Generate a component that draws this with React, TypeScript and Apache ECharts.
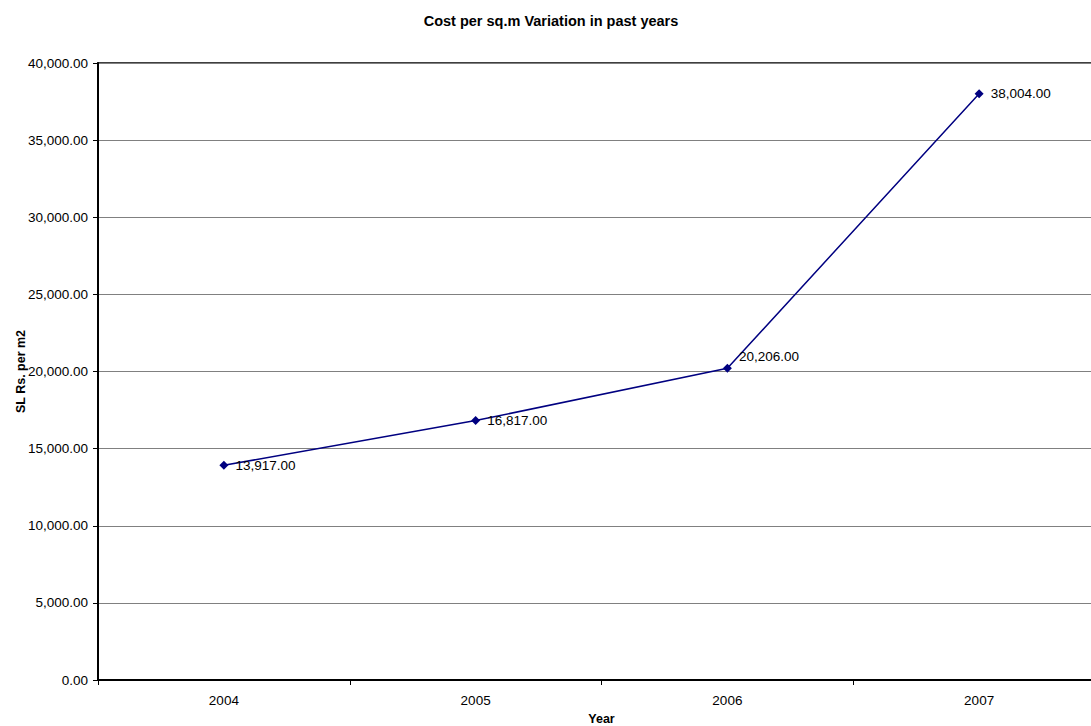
import React, { useEffect, useRef } from "react";
import * as echarts from "echarts";

const years = ["2004", "2005", "2006", "2007"];
const costs = [13917, 16817, 20206, 38004];
const chartTitle = "Cost per sq.m Variation in past years";
const yName = "SL Rs. per m2";
const xName = "Year";

const fmt = (v: number) =>
  v.toLocaleString("en-US", { minimumFractionDigits: 2, maximumFractionDigits: 2 });

export default function App() {
  const ref = useRef<HTMLDivElement>(null);
  useEffect(() => {
    const chart = echarts.init(ref.current!, null, { renderer: "svg" });
    const font = "Arial, 'Liberation Sans', sans-serif";
    const seriesData = costs.map((v, i) =>
      i === 2 ? { value: v, label: { offset: [0, -12] } } : { value: v }
    );
    chart.setOption({
      animation: false,
      backgroundColor: "#ffffff",
      title: {
        text: chartTitle,
        left: 546,
        textAlign: "center",
        top: 8,
        textStyle: { fontFamily: font, fontSize: 14.5, fontWeight: "bold", color: "#000" },
      },
      grid: {
        left: 98,
        top: 63,
        right: 0,
        bottom: 46,
        containLabel: false,
        outerBoundsMode: "none",
        show: true,
        borderColor: "#000",
        borderWidth: 1.5,
        backgroundColor: "transparent",
      },
      xAxis: {
        type: "category",
        data: years,
        boundaryGap: true,
        name: xName,
        nameLocation: "middle",
        nameGap: 32,
        nameMoveOverlap: false,
        nameTextStyle: { fontFamily: font, fontSize: 12.5, fontWeight: "bold", color: "#000" },
        axisLine: { lineStyle: { color: "#000", width: 2 } },
        axisTick: { show: true, alignWithLabel: false, length: 5, lineStyle: { color: "#000", width: 1 } },
        axisLabel: { fontFamily: font, fontSize: 13.5, color: "#000", margin: 13 },
        splitLine: { show: false },
      },
      yAxis: {
        type: "value",
        min: 0,
        max: 40000,
        interval: 5000,
        name: yName,
        nameLocation: "middle",
        nameGap: 71,
        nameMoveOverlap: false,
        nameTextStyle: { fontFamily: font, fontSize: 12.5, fontWeight: "bold", color: "#000" },
        axisLine: { show: true, lineStyle: { color: "#000", width: 2 } },
        axisTick: { show: true, length: 5, lineStyle: { color: "#000", width: 1 } },
        axisLabel: { fontFamily: font, fontSize: 13.5, color: "#000", margin: 10, formatter: (v: number) => fmt(v) },
        splitLine: { show: true, lineStyle: { color: "#808080", width: 1 } },
      },
      series: [
        {
          type: "line",
          data: seriesData,
          symbol: "diamond",
          symbolSize: 9,
          itemStyle: { color: "#000080" },
          lineStyle: { color: "#000080", width: 1.5 },
          label: {
            show: true,
            position: "right",
            distance: 7,
            fontFamily: font,
            fontSize: 13.5,
            color: "#000",
            formatter: (p: any) => fmt(p.value),
          },
        },
      ],
    });
    return () => chart.dispose();
  }, []);
  return (
    <div
      ref={ref}
      style={{ position: "fixed", left: 0, top: 0, width: 1105, height: 726 }}
    />
  );
}
